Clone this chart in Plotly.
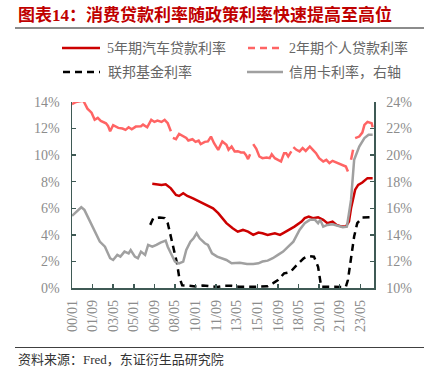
import plotly.graph_objects as go

# ---------------- data ----------------
pers_dates = ["2000-01","2000-05","2000-12","2001-01","2001-04","2001-08","2001-11","2002-02","2002-05",
              "2002-10","2002-12","2003-02","2003-05","2003-10","2004-02","2004-05","2004-08","2004-11",
              "2005-03","2005-08","2005-10","2006-02","2006-06","2006-09","2006-12","2007-04","2007-07",
              "2007-10","2008-01","2008-02",
              "2008-03","2008-06","2008-09","2009-01","2009-04","2009-06","2009-10","2010-01","2010-04",
              "2010-06","2010-10","2011-01","2011-04","2011-07","2011-11","2012-03","2012-07","2012-09",
              "2012-12","2013-03","2013-06","2013-09","2013-12","2014-02","2014-04","2014-06","2014-07",
              "2014-09","2014-12","2015-03","2015-06","2015-10","2016-01","2016-03","2016-06","2016-09",
              "2016-12","2017-03","2017-05","2017-07","2017-10","2017-11",
              "2017-12","2018-03","2018-06","2018-09","2018-12","2019-04","2019-07","2019-10","2020-01",
              "2020-05","2020-08","2020-11","2021-02","2021-07","2021-12","2022-03","2022-05","2022-06",
              "2022-08","2022-10","2022-11",
              "2022-12","2023-04","2023-07","2023-09","2023-12","2024-04","2024-05"]
pers_vals = [13.84,14.0,14.1,13.92,13.5,13.2,12.66,12.8,12.58,
             12.4,12.2,11.8,12.25,12.05,12.0,11.9,12.1,11.95,
             12.15,12.17,12.3,12.1,12.66,12.5,12.6,12.5,12.66,
             12.4,11.8,None,
             11.3,11.2,11.6,11.4,11.3,11.1,11.2,11.0,11.1,
             10.83,11.0,11.03,11.4,10.9,10.4,11.03,10.78,10.4,
             10.65,10.28,10.3,10.2,10.2,10.0,9.7,10.07,None,
             10.83,10.47,9.9,9.77,9.82,9.77,10.07,9.77,9.65,
             9.52,10.15,10.15,9.9,10.28,None,
             10.6,10.4,10.28,10.53,10.32,10.65,10.4,10.15,9.77,
             9.52,9.65,9.4,9.57,9.4,9.27,9.14,8.77,None,
             9.65,10.4,None,
             11.28,11.4,11.7,12.28,12.5,12.4,12.1]

auto_dates = ["2006-07","2007-04","2007-08","2008-01","2008-06","2008-09","2009-01","2009-05","2009-10",
              "2010-05","2010-11","2011-06","2011-11","2012-03","2012-07","2013-01","2013-06","2013-11",
              "2014-04","2014-09","2015-02","2015-06","2015-11","2016-06","2016-11","2017-03","2017-08",
              "2018-01","2018-08","2018-11","2019-03","2019-07","2019-12","2020-05","2020-09","2021-02",
              "2021-06","2021-11","2022-03","2022-06","2022-08","2022-12","2023-03","2023-07","2023-12",
              "2024-05"]
auto_vals = [7.84,7.76,7.8,7.5,7.0,6.93,7.13,6.93,6.76,
             6.5,6.25,6.0,5.63,5.26,4.88,4.5,4.24,4.37,
             4.24,4.0,4.17,4.12,4.0,4.12,4.0,4.17,4.37,
             4.62,5.0,5.26,5.38,5.26,5.33,5.13,4.88,5.0,
             4.75,4.62,4.62,5.0,6.0,7.4,7.76,7.94,8.27,
             8.27]

fed_dates = ["2006-05","2006-08","2007-02","2007-07","2007-10","2008-01","2008-04","2008-07","2008-09",
             "2008-12","2009-06","2010-01","2010-08","2011-03","2011-10","2012-05","2012-12","2013-07",
             "2014-02","2014-09","2015-04","2015-11","2016-04","2016-09","2017-03","2017-09","2018-03",
             "2018-10","2019-03","2019-08","2019-12","2020-03","2020-09","2021-04","2021-11","2022-03",
             "2022-05","2022-08","2022-11","2023-02","2023-07","2024-05"]
fed_vals = [4.75,5.26,5.3,5.26,4.88,3.87,2.86,1.86,0.85,
            0.2,0.18,0.12,0.19,0.12,0.08,0.16,0.16,0.09,
            0.07,0.09,0.12,0.13,0.35,0.6,1.1,1.2,1.7,
            2.24,2.4,2.36,1.6,0.1,0.09,0.07,0.08,0.1,
            0.6,2.24,3.87,4.88,5.3,5.33]

card_dates = ["2000-01","2000-05","2000-10","2001-01","2001-06","2001-11","2002-04","2002-09","2003-02",
              "2003-05","2003-09","2003-12","2004-04","2004-08","2004-10","2005-02","2005-05","2005-08",
              "2005-12","2006-03","2006-07","2006-11","2007-03","2007-08","2007-10","2008-01","2008-05",
              "2008-09","2009-01","2009-04","2009-08","2009-11","2010-02","2010-05","2010-10","2011-01",
              "2011-05","2011-10","2012-02","2012-07","2012-12","2013-05","2013-08","2014-03","2014-09",
              "2015-02","2015-06","2015-11","2016-04","2016-09","2017-02","2017-07","2017-12","2018-06",
              "2018-11","2019-04","2019-09","2019-12","2020-02","2020-05","2020-09","2021-02","2021-07",
              "2021-12","2022-04","2022-08","2022-11","2023-04","2023-09","2024-01","2024-05"]
card_vals = [15.43,15.75,16.08,15.88,15.12,14.24,13.49,13.11,12.24,
             12.11,12.49,12.36,12.74,12.61,12.86,12.36,12.24,12.74,
             12.49,13.24,13.11,13.24,13.42,13.57,13.11,12.61,11.99,
             11.86,11.99,12.86,13.49,13.74,14.12,13.74,13.37,13.24,
             12.61,12.36,12.24,12.11,11.86,11.86,11.9,11.8,11.8,
             11.86,11.99,12.06,12.24,12.49,12.74,13.11,13.49,14.37,
             14.88,15.13,15.13,14.88,15.13,14.62,14.75,14.8,14.68,
             14.57,14.62,16.63,19.65,20.65,21.28,21.53,21.53]

tick_dates = ["2000-01-01","2001-09-01","2003-05-01","2005-01-01","2006-09-01","2008-05-01","2010-01-01",
              "2011-09-01","2013-05-01","2015-01-01","2016-09-01","2018-05-01","2020-01-01","2021-09-01",
              "2023-05-01"]
tick_text = ["00/01","01/09","03/05","05/01","06/09","08/05","10/01","11/09","13/05","15/01","16/09",
             "18/05","20/01","21/09","23/05"]
left_ticks = [0, 2, 4, 6, 8, 10, 12, 14]
right_ticks = [10, 12, 14, 16, 18, 20, 22, 24]

names = ["5年期汽车贷款利率", "2年期个人贷款利率", "联邦基金利率", "信用卡利率，右轴"]
title_text = "图表14：消费贷款利率随政策利率快速提高至高位"
source_text = "资料来源：Fred，东证衍生品研究院"

# ---------------- styling ----------------
W, H = 424, 382
L, R, T, B = 72, 374, 102, 288
RED, PINK, GREY, BLACK = "#cc0000", "#ff6464", "#a0a0a0", "#000000"
AXIS = "#3f5a55"
TICKC = "#8c8c8c"
SERIF = "Liberation Serif, Noto Sans CJK SC, serif"

def px(x):
    return (x - L) / (R - L)

def py(y):
    return (B - y) / (B - T)

def d(s):
    return s + "-01"

fig = go.Figure()
fig.add_trace(go.Scatter(x=[d(s) for s in card_dates], y=card_vals, mode="lines", yaxis="y2",
                         line=dict(color=GREY, width=2.5), name=names[3], showlegend=False))
fig.add_trace(go.Scatter(x=[d(s) for s in pers_dates], y=pers_vals, mode="lines",
                         line=dict(color=PINK, width=2.5), name=names[1], showlegend=False,
                         connectgaps=False))
fig.add_trace(go.Scatter(x=[d(s) for s in auto_dates], y=auto_vals, mode="lines",
                         line=dict(color=RED, width=2.5), name=names[0], showlegend=False))
fig.add_trace(go.Scatter(x=[d(s) for s in fed_dates], y=fed_vals, mode="lines",
                         line=dict(color=BLACK, width=2.5, dash="7px,5px"), name=names[2],
                         showlegend=False))

shapes = []
annotations = []
# title and rules
annotations.append(dict(xref="paper", yref="paper", x=px(16), y=py(15), xanchor="left", yanchor="middle",
                        text="<b>" + title_text + "</b>", showarrow=False,
                        font=dict(family=SERIF, size=17, color="#c00000")))
shapes.append(dict(type="line", xref="paper", yref="paper", x0=px(15), x1=px(424), y0=py(28), y1=py(28),
                   line=dict(color="#8c8c8c", width=2)))
shapes.append(dict(type="line", xref="paper", yref="paper", x0=px(15), x1=px(424), y0=py(347.5), y1=py(347.5),
                   line=dict(color="#404040", width=1.2)))
annotations.append(dict(xref="paper", yref="paper", x=px(16), y=py(359), xanchor="left", yanchor="middle",
                        text=source_text, showarrow=False,
                        font=dict(family=SERIF, size=13, color="#333333")))

# manual legend
leg = [
    (62, 100, 48, RED, "solid", 105, names[0]),
    (248, 283, 48, PINK, "7px,5px", 287, names[1]),
    (63, 100, 72, BLACK, "7px,5px", 106, names[2]),
    (247, 283, 72, GREY, "solid", 287, names[3]),
]
for x0, x1, yy, col, dash, tx, txt in leg:
    shapes.append(dict(type="line", xref="paper", yref="paper", x0=px(x0), x1=px(x1), y0=py(yy), y1=py(yy),
                       line=dict(color=col, width=2.5, dash=dash)))
    annotations.append(dict(xref="paper", yref="paper", x=px(tx), y=py(yy), xanchor="left", yanchor="middle",
                            text=txt, showarrow=False,
                            font=dict(family=SERIF, size=14, color="#666666")))

fig.update_layout(
    width=W, height=H,
    margin=dict(l=L, r=W - R, t=T, b=H - B, pad=0),
    paper_bgcolor="white", plot_bgcolor="white",
    showlegend=False,
    shapes=shapes, annotations=annotations,
    xaxis=dict(type="date", range=["2000-01-01", "2024-06-10"], tickvals=tick_dates, ticktext=tick_text,
               tickangle=-90, ticks="inside", ticklen=4, tickcolor=AXIS, tickwidth=1.5,
               showline=True, linecolor=AXIS, linewidth=1.5, showgrid=False, zeroline=False,
               tickfont=dict(family=SERIF, size=14, color=TICKC), ticklabelstandoff=5),
    yaxis=dict(range=[0, 14], tickvals=left_ticks, ticktext=[f"{v}%" for v in left_ticks],
               ticks="inside", ticklen=4, tickcolor=AXIS, tickwidth=1.5,
               showline=True, linecolor=AXIS, linewidth=1.5, showgrid=False, zeroline=False,
               tickfont=dict(family=SERIF, size=14, color=TICKC), ticklabelstandoff=8),
    yaxis2=dict(range=[10, 24], tickvals=right_ticks, ticktext=[f"{v}%" for v in right_ticks],
                overlaying="y", side="right", anchor="x",
                ticks="inside", ticklen=4, tickcolor=AXIS, tickwidth=1.5,
                showline=True, linecolor=AXIS, linewidth=1.5, showgrid=False, zeroline=False,
                tickfont=dict(family=SERIF, size=14, color=TICKC), ticklabelstandoff=8),
)

fig.write_html("out.html", config={"displayModeBar": False, "staticPlot": True},
               post_script="document.body.style.margin='0';")
